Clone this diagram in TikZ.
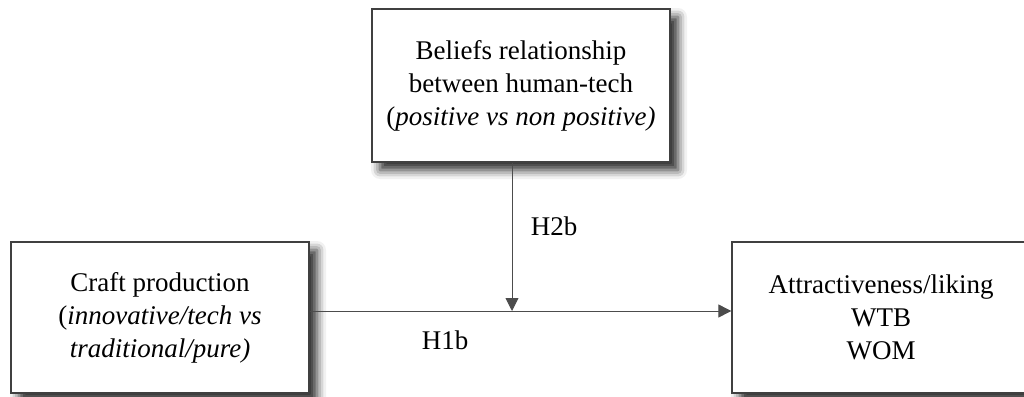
\documentclass[tikz,border=0pt]{standalone}
\usepackage{fontspec}
\setmainfont{Liberation Serif}
\usetikzlibrary{shadows.blur,arrows.meta}
\tikzset{
  box/.style={draw=black!75, line width=1.3pt, fill=white, minimum width=298pt, align=center,
    font=\fontsize{27}{33}\selectfont, inner sep=0pt,
    blur shadow={shadow xshift=8pt, shadow yshift=-8pt, shadow blur radius=9pt, shadow opacity=85}},
  conn/.style={draw=black!70, line width=0.9pt, -{Triangle[length=13pt,width=13pt]}},
  lbl/.style={font=\fontsize{27}{30}\selectfont}
}
\begin{document}
\begin{tikzpicture}[x=1pt,y=-1pt]
\useasboundingbox (0,0) rectangle (1024,396);
\node[box, minimum height=153pt] (top) at (521,85.5) {Beliefs relationship\\between human-tech\\(\textit{positive vs non positive)}};
\node[box, minimum height=151pt] (left) at (160,317.5) {Craft production\\(\textit{innovative/tech vs}\\\textit{traditional/pure)}};
\node[box, minimum height=151pt] (right) at (881,317.5) {Attractiveness/liking\\WTB\\WOM};
\coordinate (m) at (512,311);
\draw[conn] (top.south -| m) -- (m);
\draw[conn] (left.east |- m) -- (right.west |- m);
\node[lbl] (h2b) at (554,226) {H2b};
\node[lbl] (h1b) at (445,340) {H1b};
\end{tikzpicture}
\end{document}
